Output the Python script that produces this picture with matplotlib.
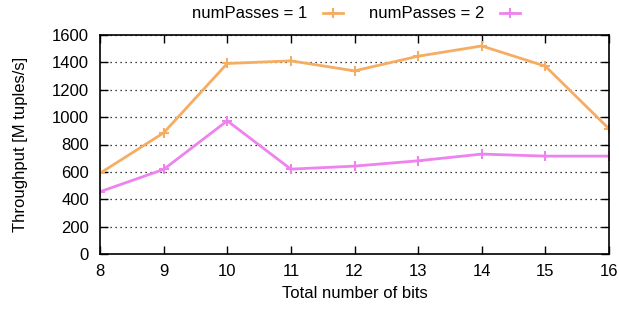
import matplotlib
matplotlib.use("Agg")
import matplotlib.pyplot as plt

plt.rcParams['font.family'] = ['Liberation Sans', 'DejaVu Sans']

bits = [8, 9, 10, 11, 12, 13, 14, 15, 16]
passes1 = [590, 885, 1392, 1411, 1338, 1445, 1520, 1372, 915]
passes2 = [455, 618, 973, 620, 642, 681, 730, 715, 715]
labels = ["numPasses = 1", "numPasses = 2"]
yticks = [0, 200, 400, 600, 800, 1000, 1200, 1400, 1600]

fig = plt.figure(figsize=(6.19, 3.10), dpi=100)
ax = fig.add_axes([100/619, 1-254/310, 509/619, 219/310])

c1 = '#f5ad62'
c2 = '#ee82ee'
ax.plot(bits, passes1, color=c1, lw=2, marker='+', ms=7, mew=1.5, label=labels[0])
ax.plot(bits, passes2, color=c2, lw=2, marker='+', ms=7, mew=1.5, label=labels[1])

ax.set_xlim(8, 16)
ax.set_ylim(0, 1600)
ax.set_xticks(bits)
ax.set_yticks(yticks)
ax.tick_params(direction='in', top=True, right=True, labelsize=12, length=6, width=1)
ax.tick_params(axis='y', pad=8)
ax.tick_params(axis='x', pad=7)
ax.yaxis.grid(True, linestyle=(0, (1, 3)), color='black', lw=0.9)
ax.set_axisbelow(True)
for s in ax.spines.values():
    s.set_linewidth(1.2)
ax.set_xlabel("Total number of bits", fontsize=12, labelpad=5)
ax.set_ylabel("Throughput [M tuples/s]", fontsize=12, labelpad=17)

fig.legend(loc='center', bbox_to_anchor=(0.575, 0.955), ncol=2, frameon=False,
           markerfirst=False, fontsize=12, handlelength=1.2, handletextpad=0.9,
           columnspacing=1.6)

fig.savefig("out.png", dpi=100)
